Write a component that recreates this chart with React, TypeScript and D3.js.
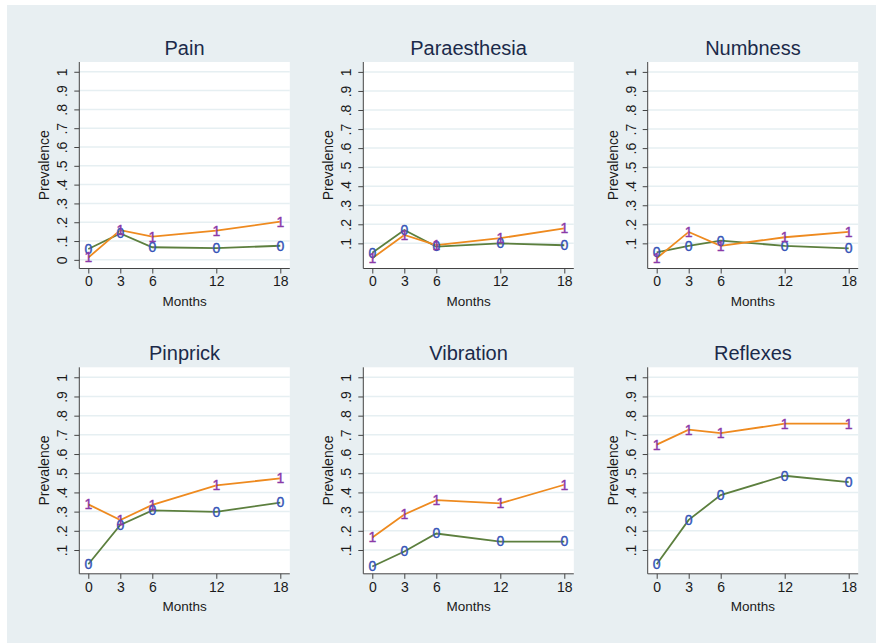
import { axisBottom, axisLeft, line, scaleLinear, select } from "d3";
import { useEffect, useRef } from "react";

const months = [0, 3, 6, 12, 18];
const panelTitles = ["Pain", "Paraesthesia", "Numbness", "Pinprick", "Vibration", "Reflexes"];

// group "1" (orange) and group "0" (green), one array per panel
const pain1 = [0.012, 0.158, 0.123, 0.155, 0.203];
const pain0 = [0.058, 0.14, 0.067, 0.062, 0.075];
const paraesthesia1 = [0.022, 0.144, 0.091, 0.127, 0.179];
const paraesthesia0 = [0.051, 0.17, 0.083, 0.1, 0.09];
const numbness1 = [0.022, 0.16, 0.087, 0.132, 0.16];
const numbness0 = [0.053, 0.087, 0.114, 0.087, 0.074];
const pinprick1 = [0.338, 0.256, 0.335, 0.437, 0.473];
const pinprick0 = [0.026, 0.23, 0.306, 0.299, 0.347];
const vibration1 = [0.165, 0.285, 0.36, 0.343, 0.44];
const vibration0 = [0.014, 0.092, 0.186, 0.144, 0.144];
const reflexes1 = [0.649, 0.727, 0.709, 0.758, 0.758];
const reflexes0 = [0.026, 0.257, 0.386, 0.487, 0.454];

const group1 = [pain1, paraesthesia1, numbness1, pinprick1, vibration1, reflexes1];
const group0 = [pain0, paraesthesia0, numbness0, pinprick0, vibration0, reflexes0];

const yTicksPain = [0, 0.1, 0.2, 0.3, 0.4, 0.5, 0.6, 0.7, 0.8, 0.9, 1];
const yTicks = [0.1, 0.2, 0.3, 0.4, 0.5, 0.6, 0.7, 0.8, 0.9, 1];

const W = 876;
const H = 643;
const colLeft = [79.3, 363.3, 647.7];
const rowTop = [62, 367.3];
const plotW = 210.5;
const plotH = 206.5;
const yLow = [-0.046, -0.032, -0.032, -0.024, -0.024, -0.024];

const ORANGE = "#ee8a1f";
const GREEN = "#5c7f3e";
const FONT = "Arial, 'Liberation Sans', sans-serif";

const fmt = (v: number) => (v === 0 ? "0" : v === 1 ? "1" : "." + Math.round(v * 10));

function App() {
    const svgRef = useRef<SVGSVGElement>(null);

    useEffect(() => {
        const svg = select(svgRef.current);
        svg.selectAll("*").remove();

        svg.append("rect").attr("width", W).attr("height", H).attr("fill", "#ffffff");
        svg.append("rect")
            .attr("x", 7)
            .attr("y", 5)
            .attr("width", W - 7)
            .attr("height", H - 5)
            .attr("fill", "#e8eff2");

        panelTitles.forEach((title, i) => {
            const left = colLeft[i % 3];
            const top = rowTop[Math.floor(i / 3)];
            const g = svg.append("g").attr("transform", `translate(${left},${top})`);

            const x = scaleLinear().domain([0, 18]).range([9, plotW - 9.5]);
            const y = scaleLinear().domain([yLow[i], 1.052]).range([plotH, 0]);
            const ticks = i === 0 ? yTicksPain : yTicks;

            g.append("rect").attr("width", plotW).attr("height", plotH).attr("fill", "#ffffff");

            // grid
            g.selectAll(".grid")
                .data(ticks)
                .enter()
                .append("line")
                .attr("x1", 0)
                .attr("x2", plotW)
                .attr("y1", (d) => y(d))
                .attr("y2", (d) => y(d))
                .attr("stroke", "#e6eff2")
                .attr("stroke-width", 1.5);

            // y axis
            const ya = g.append("g").call(
                axisLeft(y).tickValues(ticks).tickSize(5).tickPadding(4).tickFormat((d: any) => fmt(d))
            );
            ya.select(".domain").attr("stroke", "#444").attr("d", `M0,0V${plotH}`);
            ya.selectAll(".tick line").attr("stroke", "#444");
            ya.selectAll(".tick text")
                .attr("transform", "rotate(-90)")
                .attr("x", 0)
                .attr("y", -17)
                .attr("dy", "0.35em")
                .attr("text-anchor", "middle")
                .attr("font-size", 14)
                .attr("font-family", FONT)
                .attr("fill", "#1a1a1a");

            // x axis
            const xa = g.append("g")
                .attr("transform", `translate(0,${plotH})`)
                .call(axisBottom(x).tickValues(months).tickSize(5).tickPadding(3).tickFormat((d: any) => String(d)));
            xa.select(".domain").attr("stroke", "#444").attr("d", `M0,0H${plotW}`);
            xa.selectAll(".tick line").attr("stroke", "#444");
            xa.selectAll(".tick text")
                .attr("font-size", 14)
                .attr("font-family", FONT)
                .attr("fill", "#1a1a1a");

            // axis titles
            g.append("text")
                .attr("x", plotW / 2)
                .attr("y", plotH + 37)
                .attr("text-anchor", "middle")
                .attr("font-size", 13.5)
                .attr("font-family", FONT)
                .attr("fill", "#1a1a1a")
                .text("Months");
            g.append("text")
                .attr("transform", `translate(-30,${plotH / 2}) rotate(-90)`)
                .attr("text-anchor", "middle")
                .attr("font-size", 14)
                .attr("font-family", FONT)
                .attr("fill", "#1a1a1a")
                .text("Prevalence");
            g.append("text")
                .attr("x", plotW / 2)
                .attr("y", -7)
                .attr("text-anchor", "middle")
                .attr("font-size", 20)
                .attr("font-family", FONT)
                .attr("fill", "#1b2a4a")
                .text(title);

            const series = [
                { values: group0[i], color: GREEN, label: "0", labelColor: "#3655b8" },
                { values: group1[i], color: ORANGE, label: "1", labelColor: "#8a3aa8" },
            ];
            const ln = line<number>()
                .x((_, j) => x(months[j]))
                .y((d) => y(d));

            series.forEach((s) => {
                g.append("path")
                    .attr("d", ln(s.values))
                    .attr("fill", "none")
                    .attr("stroke", s.color)
                    .attr("stroke-width", 1.8);
            });
            series.forEach((s) => {
                g.selectAll(null)
                    .data(s.values)
                    .enter()
                    .append("text")
                    .attr("x", (_, j) => x(months[j]))
                    .attr("y", (d) => y(d))
                    .attr("dy", "0.35em")
                    .attr("text-anchor", "middle")
                    .attr("font-size", 14)
                    .attr("font-family", FONT)
                    .attr("stroke", s.labelColor)
                    .attr("stroke-width", 0.4)
                    .attr("fill", s.labelColor)
                    .text(s.label);
            });
        });
    }, []);

    return (
        <div style={{ position: "absolute", left: 0, top: 0 }}>
            <svg ref={svgRef} width={W} height={H} style={{ display: "block" }} />
        </div>
    );
}

export default App;
